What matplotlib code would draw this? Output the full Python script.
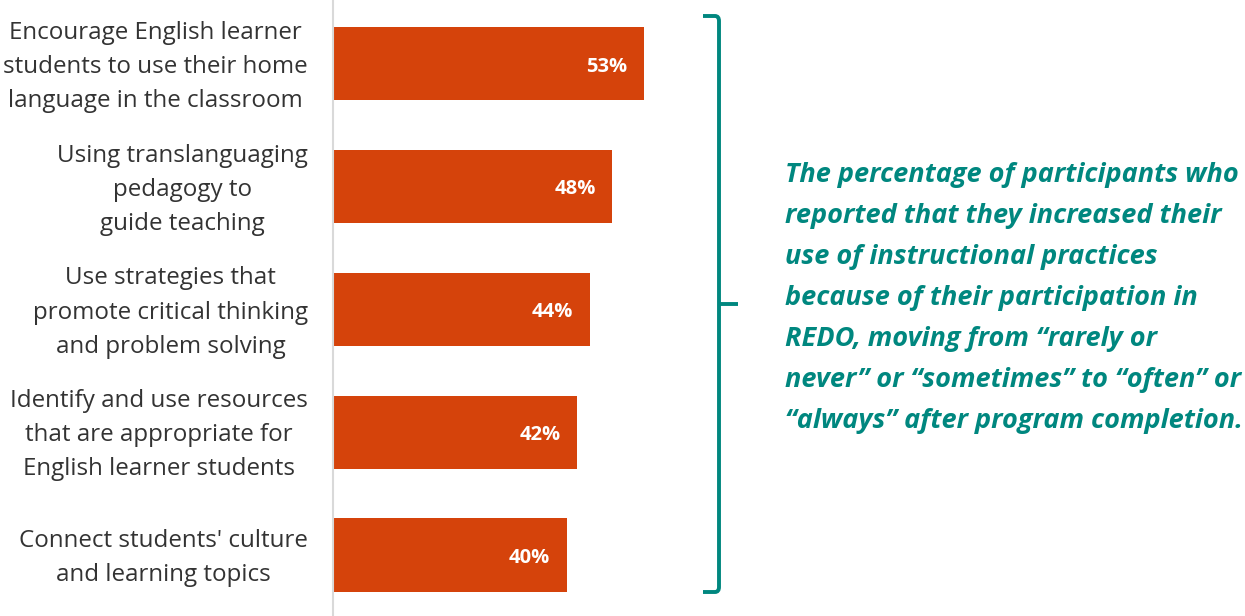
import matplotlib
matplotlib.use("Agg")
import matplotlib.pyplot as plt
import matplotlib.transforms as mtransforms
from matplotlib.path import Path
from matplotlib.patches import PathPatch

categories = [
    "Encourage English learner\nstudents to use their home\nlanguage in the classroom",
    "Using translanguaging\npedagogy to\nguide teaching",
    "Use strategies that\npromote critical thinking\nand problem solving",
    "Identify and use resources\nthat are appropriate for\nEnglish learner students",
    "Connect students' culture\nand learning topics",
]
values = [53.0, 47.6, 43.7, 41.6, 39.8]
value_labels = ["53%", "48%", "44%", "42%", "40%"]
note = ("The percentage of participants who\n"
        "reported that they increased their\n"
        "use of instructional practices\n"
        "because of their participation in\n"
        "REDO, moving from \u201crarely or\n"
        "never\u201d or \u201csometimes\u201d to \u201coften\u201d or\n"
        "\u201calways\u201d after program completion.")

BAR = "#D5430B"
TEAL = "#00877F"
TXT = "#333333"
W, H = 1245, 616

plt.rcParams['font.family'] = ['Open Sans', 'DejaVu Sans']
fig = plt.figure(figsize=(W / 100, H / 100), dpi=100)
ax = fig.add_axes([333 / W, 0, 587 / W, 1])

pos = list(range(len(categories)))
ax.barh(pos, values, height=0.595, color=BAR)
ax.set_xlim(0, 100)
ax.set_ylim(4.497, -0.521)

for p, v, lab in zip(pos, values, value_labels):
    ax.annotate(lab, xy=(v, p), xytext=(-12, -2), textcoords="offset points",
                ha="right", va="center", color="white", fontsize=14.5,
                fontweight="bold")

ax.set_yticks(pos)
ax.set_yticklabels(categories, fontsize=17.4, color=TXT, linespacing=1.56,
                   multialignment="center")
ax.tick_params(axis="y", length=0, pad=18)
shift = mtransforms.ScaledTranslation(0, 5 / 100, fig.dpi_scale_trans)
for t in ax.get_yticklabels():
    t.set_transform(t.get_transform() + shift)
ax.set_xticks([])
for s in ["top", "right", "bottom"]:
    ax.spines[s].set_visible(False)
ax.spines["left"].set_color("#d9d9d9")
ax.spines["left"].set_linewidth(1.5)

# bracket (figure pixel coords -> fraction)
def f(x, y):
    return (x / W, 1 - y / H)

verts = [f(703, 16), f(715, 16), f(719, 16), f(719, 21), f(719, 587),
         f(719, 592), f(715, 592), f(703, 592)]
codes = [Path.MOVETO, Path.LINETO, Path.CURVE3, Path.CURVE3, Path.LINETO,
         Path.CURVE3, Path.CURVE3, Path.LINETO]
fig.patches.append(PathPatch(Path(verts, codes), transform=fig.transFigure,
                             fill=False, edgecolor=TEAL, linewidth=2.8,
                             capstyle="butt"))
tick = [f(719, 304), f(738, 304)]
fig.patches.append(PathPatch(Path(tick, [Path.MOVETO, Path.LINETO]),
                             transform=fig.transFigure, fill=False,
                             edgecolor=TEAL, linewidth=2.8))

fig.text(785 / W, 1 - 298 / H, note, ha="left", va="center", color=TEAL,
         fontsize=19.5, fontweight="bold", fontstyle="italic", linespacing=1.75)

fig.savefig("out.png", dpi=100)
